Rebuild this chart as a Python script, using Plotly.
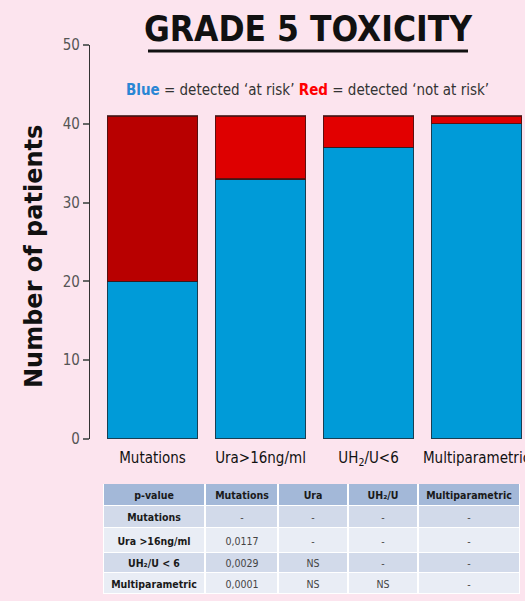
import plotly.graph_objects as go

categories = ["Mutations", "Ura>16ng/ml", "UH<sub>2</sub>/U<6", "Multiparametric"]
blue_values = [20, 33, 37, 40]
red_values = [21, 8, 4, 1]
y_ticks = [0, 10, 20, 30, 40, 50]

table_header = ["p-value", "Mutations", "Ura", "UH₂/U", "Multiparametric"]
table_rows = ["Mutations", "Ura >16ng/ml", "UH₂/U < 6", "Multiparametric"]
col_mutations = ["-", "0,0117", "0,0029", "0,0001"]
col_ura = ["-", "-", "NS", "NS"]
col_uh2u = ["-", "-", "-", "NS"]
col_multi = ["-", "-", "-", "-"]

W, H = 525, 601
BG = "#FCE4EE"
COND = "DejaVu Sans Condensed, Liberation Sans Narrow, Arial Narrow, sans-serif"


def px(x):
    return x / W


def py(y):
    return 1 - y / H


# --- table layout (built from the arrays above) ---
col_edges = [0, 102, 175, 245, 315, 417]      # relative widths of table columns
row_edges = [0, 22, 44, 69, 89, 110]          # relative heights of table rows
value_cols = [col_mutations, col_ura, col_uh2u, col_multi]
z_table, text_table = [], []
z_table.append([0] * len(table_header))
text_table.append(["<b>" + h + "</b>" for h in table_header])
for i, r in enumerate(table_rows):
    z_table.append([1 + (i % 2)] * len(table_header))
    text_table.append(["<b>" + r + "</b>"] +
                      ["<span style='color:#444'>" + c[i] + "</span>" for c in value_cols])

fig = go.Figure()
fig.add_trace(go.Bar(
    x=categories, y=blue_values, name="at risk",
    marker=dict(color="#009BD8", line=dict(color="rgba(30,40,50,0.8)", width=1.2)),
    showlegend=False, hoverinfo="skip",
))
fig.add_trace(go.Bar(
    x=categories, y=red_values, name="not at risk",
    marker=dict(color=["#B80000", "#DE0000", "#E20000", "#DE0000"],
                line=dict(color="rgba(60,20,20,0.8)", width=1.2)),
    showlegend=False, hoverinfo="skip",
))

fig.add_trace(go.Heatmap(
    x=col_edges, y=row_edges, z=z_table, text=text_table,
    texttemplate="%{text}", textfont=dict(family=COND, size=10.5, color="#1a1a1a"),
    colorscale=[[0, "#A3B8D8"], [0.5, "#D2DAEA"], [1, "#E9EDF5"]], zmin=0, zmax=2,
    showscale=False, hoverinfo="skip", xgap=2, ygap=1,
    xaxis="x2", yaxis="y2",
))

fig.update_layout(
    width=W, height=H,
    paper_bgcolor=BG, plot_bgcolor=BG,
    barmode="stack", bargap=0.16,
    margin=dict(l=0, r=0, t=0, b=0),
    xaxis=dict(
        domain=[px(90), 1], automargin=False,
        range=[-0.579, 3.449], showline=False, showgrid=False, zeroline=False,
        tickfont=dict(family=COND, size=15, color="#111"),
        ticks="", ticklabelstandoff=8,
    ),
    yaxis=dict(
        domain=[py(439), py(45)], automargin=False,
        range=[0, 50], tickvals=y_ticks, showgrid=False, zeroline=False,
        showline=True, linecolor="#333", linewidth=1.2,
        ticks="outside", ticklen=6, tickcolor="#666", tickwidth=2,
        tickfont=dict(family=COND, size=15, color="#555"),
    ),
    xaxis2=dict(
        domain=[px(103), px(520)], anchor="y2", automargin=False,
        range=[col_edges[0], col_edges[-1]], visible=False, fixedrange=True,
    ),
    yaxis2=dict(
        domain=[py(594), py(484)], anchor="x2", automargin=False,
        range=[row_edges[-1], row_edges[0]], visible=False, fixedrange=True,
    ),
    annotations=[
        dict(text="<b>GRADE 5 TOXICITY</b>", xref="paper", yref="paper",
             x=px(308), y=py(29), xanchor="center", yanchor="middle",
             showarrow=False, font=dict(family=COND, size=35, color="#111")),
        dict(text="<b><span style='color:#2A86D4'>Blue</span></b> = detected ‘at risk’ "
                  "<b><span style='color:#FF0000'>Red</span></b> = detected ‘not at risk’",
             xref="paper", yref="paper",
             x=px(307), y=py(90), xanchor="center", yanchor="middle",
             showarrow=False, font=dict(family=COND, size=15, color="#333")),
        dict(text="<b>Number of patients</b>", xref="paper", yref="paper",
             x=px(34), y=py(257), xanchor="center", yanchor="middle", textangle=-90,
             showarrow=False, font=dict(family="DejaVu Sans, sans-serif", size=24, color="#111")),
    ],
    shapes=[
        dict(type="line", xref="paper", yref="paper",
             x0=px(148), x1=px(468), y0=py(51), y1=py(51),
             line=dict(color="#111", width=3)),
        dict(type="rect", xref="paper", yref="paper", layer="below",
             x0=px(103), x1=px(520), y0=py(594), y1=py(484),
             fillcolor="white", line=dict(width=0)),
    ],
)

fig.write_html("out.html")
